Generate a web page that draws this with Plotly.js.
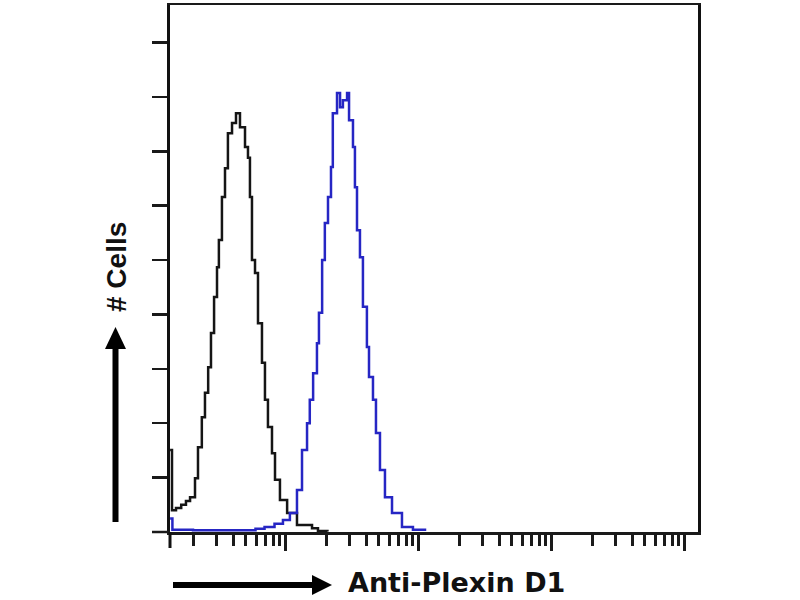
<!DOCTYPE html>
<html>
<head>
<meta charset="utf-8">
<script src="https://cdn.plot.ly/plotly-3.0.1.min.js"></script>
<style>
  html, body { margin: 0; padding: 0; background: #fff; }
  #chart { width: 800px; height: 600px; }
</style>
</head>
<body>
<div id="chart"></div>
<script>
// Isotype control (black) - fluorescence intensity vs cell count
const controlX = [1.345, 1.39, 1.49, 1.63, 1.77, 1.90, 2.07, 2.18, 2.33, 2.46, 2.60, 2.73, 2.88, 3.03, 3.13, 3.30, 3.48, 3.66,
  3.93, 4.21, 4.51, 4.92, 5.18, 5.36, 5.55, 5.85, 6.16, 6.60, 6.95, 7.32, 7.85, 8.27, 9.01,
  10.2, 12.1, 15.7, 17.4, 20.5];
const controlY = [15.1, 4.0, 4.4, 5.0, 5.7, 6.4, 9.9, 15.6, 21.1, 25.6, 30.3, 36.6, 43.2, 48.7, 53.7, 61.6, 66.9, 73.3,
  75.2, 77.0, 74.4, 70.8, 68.8, 61.6, 50.0, 47.6, 38.4, 31.1, 24.3, 19.3, 14.5, 9.6, 5.9,
  3.5, 1.3, 0.7, 0.2, 0.1];

// Anti-Plexin D1 stained (blue)
const stainedX = [1.345, 1.40, 2.0, 3.0, 4.5, 5.9, 6.9, 8.2, 9.49, 10.7, 12.1, 13.2, 14.4, 15.1, 16.0,
  17.1, 17.7, 18.7, 19.6, 20.7, 21.8, 22.5, 24.2, 25.5, 26.8, 28.8, 29.8, 31.9, 33.0,
  34.2, 36.0, 37.9, 40.6, 42.1, 45.1, 47.5, 50.9, 55.5, 62.7, 74.5, 90.1, 111];
const stainedY = [2.5, 0.4, 0.3, 0.3, 0.3, 0.6, 0.9, 1.5, 2.2, 3.5, 7.7, 15.1, 20.0, 24.3, 29.2,
  34.7, 40.3, 50.0, 56.8, 61.6, 67.1, 77.0, 80.7, 78.1, 79.4, 80.7, 75.7, 70.8, 63.4,
  55.5, 50.5, 41.4, 34.0, 28.5, 24.3, 18.2, 11.4, 6.4, 3.5, 0.9, 0.4, 0.2];

const yTicks = [0, 10, 20, 30, 40, 50, 60, 70, 80, 90];
const majorTicks = [10, 100, 1000, 10000];
const minorTicks = [];
[1, 10, 100, 1000].forEach(dec => {
  for (let k = 2; k <= 9; k++) minorTicks.push(k * dec);
});

const xLabel = 'Anti-Plexin D1';
const yLabel = '# Cells';

const traces = [
  {
    x: controlX, y: controlY, type: 'scatter', mode: 'lines',
    line: { color: '#151515', width: 2.5, shape: 'hv' }, hoverinfo: 'skip'
  },
  {
    x: stainedX, y: stainedY, type: 'scatter', mode: 'lines',
    line: { color: '#2626c4', width: 2.5, shape: 'hv' }, hoverinfo: 'skip'
  }
];

// plot area: x 170..698, y 5..532 (px)
const pw = 528, ph = 527;
const px = v => (v - 170) / pw;
const py = v => (532 - v) / ph;

const layout = {
  width: 800, height: 600,
  margin: { l: 170, r: 102, t: 5, b: 68 },
  paper_bgcolor: '#fff', plot_bgcolor: '#fff',
  showlegend: false,
  xaxis: {
    type: 'log', range: [0.128, 4.098],
    showgrid: false, zeroline: false,
    showline: true, linecolor: '#1a1a1a', linewidth: 2.5, mirror: true,
    tickmode: 'array', tickvals: majorTicks, showticklabels: false,
    ticks: 'outside', ticklen: 16, tickwidth: 3, tickcolor: '#1a1a1a',
    minor: { tickmode: 'array', tickvals: minorTicks, ticks: 'outside', ticklen: 11, tickwidth: 3, tickcolor: '#1a1a1a', showgrid: false }
  },
  yaxis: {
    range: [0, 96.9],
    showgrid: false, zeroline: false,
    showline: true, linecolor: '#111', linewidth: 3, mirror: true,
    tickmode: 'array', tickvals: yTicks, showticklabels: false,
    ticks: 'outside', ticklen: 15, tickwidth: 2.5, tickcolor: '#1a1a1a'
  },
  shapes: [
    // x axis line running past the y axis
    { type: 'line', xref: 'paper', yref: 'paper', x0: px(152), x1: 0, y0: 0, y1: 0, line: { color: '#1a1a1a', width: 2.5 } },
    // y axis line running below the x axis
    { type: 'line', xref: 'paper', yref: 'paper', x0: 0, x1: 0, y0: 0, y1: py(548), line: { color: '#111', width: 3 } },
    // vertical arrow
    { type: 'line', xref: 'paper', yref: 'paper', x0: px(115.5), x1: px(115.5), y0: py(522), y1: py(346), line: { color: '#000', width: 6 } },
    { type: 'path', xref: 'paper', yref: 'paper', fillcolor: '#000', line: { width: 0 },
      path: `M ${px(105)} ${py(349)} L ${px(126)} ${py(349)} L ${px(115.5)} ${py(327)} Z` },
    // horizontal arrow
    { type: 'line', xref: 'paper', yref: 'paper', x0: px(173), x1: px(314), y0: py(585), y1: py(585), line: { color: '#000', width: 6 } },
    { type: 'path', xref: 'paper', yref: 'paper', fillcolor: '#000', line: { width: 0 },
      path: `M ${px(312)} ${py(575)} L ${px(312)} ${py(595)} L ${px(332)} ${py(585)} Z` }
  ],
  annotations: [
    { text: '<b>' + xLabel + '</b>', xref: 'paper', yref: 'paper', x: px(346), y: py(582),
      xanchor: 'left', yanchor: 'middle', showarrow: false,
      font: { family: 'DejaVu Sans, sans-serif', size: 27, color: '#111' } },
    { text: '<b>' + yLabel + '</b>', xref: 'paper', yref: 'paper', x: px(116), y: py(267),
      xanchor: 'center', yanchor: 'middle', textangle: -90, showarrow: false,
      font: { family: 'Liberation Sans, Arial, sans-serif', size: 28, color: '#111' } }
  ]
};

Plotly.newPlot('chart', traces, layout, { displayModeBar: false, staticPlot: true });
</script>
</body>
</html>
